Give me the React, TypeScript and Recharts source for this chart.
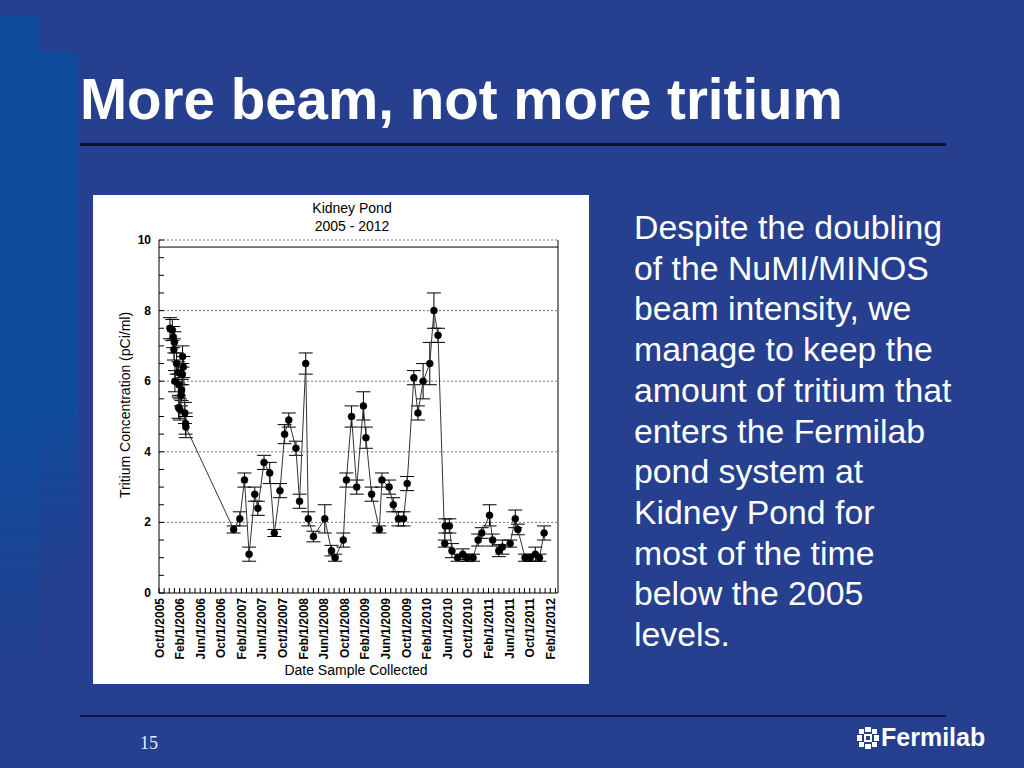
import React from "react";
import { LineChart, Line, XAxis, YAxis, ErrorBar, ReferenceLine } from "recharts";

// x = months after Oct/1/2005
const sampleMonths = [
  2.13, 2.59, 2.79, 2.9, 2.98, 3.09, 3.42, 3.75, 3.8, 3.87, 4.06, 4.26, 4.39, 4.53, 4.58, 4.72, 5.03, 5.16, 5.22,
  14.5, 15.7, 16.6, 17.5, 18.6, 19.2, 20.4, 21.5, 22.4, 23.5, 24.4, 25.2, 26.6, 27.3, 28.5, 29.0, 30.0,
  32.2, 33.5, 34.2, 35.8, 36.4, 37.4, 38.4, 39.7, 40.2, 41.3, 42.8, 43.3, 44.7, 45.5, 46.5, 47.5, 48.2,
  49.5, 50.3, 51.3, 52.6, 53.4, 54.2, 55.5, 55.6, 56.4, 56.9, 58.0, 59.0, 59.8, 61.0, 62.0, 62.7, 64.2,
  64.8, 66.0, 66.7, 68.2, 69.2, 69.7, 71.1, 72.1, 73.1, 73.9, 74.8,
];
const tritium = [
  7.5, 7.45, 7.25, 6.9, 7.1, 6.0, 6.5, 6.25, 5.25, 5.9, 5.2, 5.6, 5.75, 6.2, 6.7, 6.4, 5.1, 4.8, 4.7,
  1.8, 2.1, 3.2, 1.1, 2.8, 2.4, 3.7, 3.4, 1.7, 2.9, 4.5, 4.9, 4.1, 2.6, 6.5, 2.1, 1.6,
  2.1, 1.2, 1.0, 1.5, 3.2, 5.0, 3.0, 5.3, 4.4, 2.8, 1.8, 3.2, 3.0, 2.5, 2.1, 2.1, 3.1,
  6.1, 5.1, 6.0, 6.5, 8.0, 7.3, 1.4, 1.9, 1.9, 1.2, 1.0, 1.1, 1.0, 1.0, 1.5, 1.7, 2.2,
  1.5, 1.2, 1.3, 1.4, 2.1, 1.8, 1.0, 1.0, 1.1, 1.0, 1.7,
];
const tritiumErr = [
  0.3, 0.3, 0.3, 0.3, 0.3, 0.3, 0.3, 0.3, 0.3, 0.3, 0.3, 0.3, 0.3, 0.3, 0.3, 0.3, 0.3, 0.3, 0.3,
  0.1, 0.2, 0.2, 0.2, 0.2, 0.2, 0.2, 0.3, 0.1, 0.2, 0.27, 0.2, 0.2, 0.2, 0.3, 0.2, 0.15,
  0.4, 0.15, 0.1, 0.2, 0.2, 0.3, 0.2, 0.4, 0.3, 0.2, 0.1, 0.2, 0.2, 0.2, 0.2, 0.2, 0.2,
  0.2, 0.2, 0.5, 0.6, 0.5, 0.2, 0.1, 0.2, 0.2, 0.2, 0.1, 0.15, 0.1, 0.1, 0.17, 0.15, 0.3,
  0.17, 0.17, 0.2, 0.1, 0.25, 0.15, 0.1, 0.1, 0.2, 0.1, 0.2,
];

const dateTickMonths = [0, 4, 8, 12, 16, 20, 24, 28, 32, 36, 40, 44, 48, 52, 56, 60, 64, 68, 72, 76];
const dateTickLabels = [
  "Oct/1/2005", "Feb/1/2006", "Jun/1/2006", "Oct/1/2006", "Feb/1/2007", "Jun/1/2007", "Oct/1/2007",
  "Feb/1/2008", "Jun/1/2008", "Oct/1/2008", "Feb/1/2009", "Jun/1/2009", "Oct/1/2009", "Feb/1/2010",
  "Jun/1/2010", "Oct/1/2010", "Feb/1/2011", "Jun/1/2011", "Oct/1/2011", "Feb/1/2012",
];
const monthTicks = Array.from({ length: 78 }, (_, i) => i);
const concTicks = [0, 0.5, 1, 1.5, 2, 2.5, 3, 3.5, 4, 4.5, 5, 5.5, 6, 6.5, 7, 7.5, 8, 8.5, 9, 9.5, 10];
const concLabels = [0, 2, 4, 6, 8, 10];
const gridLevels = [2, 4, 6, 8, 10];

const bodyLines = [
  "Despite the doubling",
  "of the NuMI/MINOS",
  "beam intensity, we",
  "manage to keep the",
  "amount of tritium that",
  "enters the Fermilab",
  "pond system at",
  "Kidney Pond for",
  "most of the time",
  "below the 2005",
  "levels.",
];

const data = sampleMonths.map((m, i) => ({ m, v: tritium[i], e: tritiumErr[i] }));

const BottomTick = ({ x, y, payload }: any) => {
  const i = dateTickMonths.indexOf(payload.value);
  return (
    <g>
      <line x1={x} x2={x} y1={y} y2={y - 5} stroke="#000" strokeWidth={1} />
      {i >= 0 && (
        <text
          transform={`translate(${x + 4.5},${y + 5}) rotate(-90)`}
          textAnchor="end"
          fontSize={12}
          fontWeight="bold"
          fill="#000"
        >
          {dateTickLabels[i]}
        </text>
      )}
    </g>
  );
};

const TopTick = ({ x, y }: any) => (
  <line x1={x} x2={x} y1={y + 7} y2={y + 12} stroke="#000" strokeWidth={1} />
);

const LeftTick = ({ x, y, payload }: any) => (
  <g>
    <line x1={x} x2={x + 5} y1={y} y2={y} stroke="#000" strokeWidth={1} />
    {concLabels.includes(payload.value) && (
      <text x={x - 8} y={y + 4} textAnchor="end" fontSize={12} fontWeight="bold" fill="#000">
        {payload.value}
      </text>
    )}
  </g>
);

const RightTick = ({ x, y }: any) => (
  <line x1={x - 5} x2={x} y1={y} y2={y} stroke="#000" strokeWidth={1} />
);

const abs = (style: React.CSSProperties): React.CSSProperties => ({ position: "absolute", ...style });

export default function App() {
  return (
    <div
      style={{
        position: "fixed",
        left: 0,
        top: 0,
        width: 1024,
        height: 768,
        overflow: "hidden",
        background: "#263f8e",
        fontFamily: "'Liberation Sans', Arial, sans-serif",
      }}
    >
      {/* left decorative stripe */}
      <div style={abs({ left: 0, top: 15, width: 40, height: 680, background: "linear-gradient(#0f4b9c 60%, #263f8e)" })} />
      <div style={abs({ left: 40, top: 52, width: 38, height: 540, background: "linear-gradient(#0f4b9c 65%, #263f8e)" })} />

      <div style={abs({ left: 80, top: 72, fontSize: 56.5, lineHeight: "56px", fontWeight: "bold", color: "#fff", whiteSpace: "nowrap" })}>
        More beam, not more tritium
      </div>
      <div style={abs({ left: 80, top: 143, width: 866, height: 3, background: "#0b1230" })} />

      {/* chart panel */}
      <div style={abs({ left: 93, top: 195, width: 496, height: 489, background: "#fff" })}>
        <div style={abs({ left: 0, top: 4, width: 518, textAlign: "center", fontSize: 14, lineHeight: "18px", color: "#000" })}>
          Kidney Pond
          <br />
          2005 - 2012
        </div>
        <div
          style={abs({
            left: 32 - 120,
            top: 210 - 9,
            width: 240,
            textAlign: "center",
            fontSize: 14,
            lineHeight: "18px",
            transform: "rotate(-90deg)",
            whiteSpace: "nowrap",
          })}
        >
          Tritium Concentration (pCi/ml)
        </div>
        <div style={abs({ left: 0, top: 466, width: 526, textAlign: "center", fontSize: 14, lineHeight: "18px" })}>
          Date Sample Collected
        </div>
        <div style={abs({ left: 0, top: 0 })}>
          <LineChart width={496} height={489} data={data} margin={{ top: 45, right: 0, bottom: 0, left: 0 }}>
            <XAxis
              xAxisId="bottom"
              dataKey="m"
              type="number"
              domain={[0, 77.5]}
              ticks={monthTicks}
              interval={0}
              height={91}
              tickSize={0}
              tickMargin={0}
              tick={<BottomTick />}
              axisLine={{ stroke: "#000", strokeWidth: 1 }}
              tickLine={false}
            />
            <XAxis
              xAxisId="top"
              orientation="top"
              dataKey="m"
              type="number"
              domain={[0, 77.5]}
              ticks={monthTicks}
              interval={0}
              height={0}
              tickSize={0}
              tickMargin={0}
              tick={<TopTick />}
              axisLine={false}
              tickLine={false}
            />
            <YAxis
              yAxisId="left"
              type="number"
              domain={[0, 10]}
              ticks={concTicks}
              interval={0}
              width={66}
              tickSize={0}
              tickMargin={0}
              tick={<LeftTick />}
              axisLine={{ stroke: "#000", strokeWidth: 1 }}
              tickLine={false}
            />
            <YAxis
              yAxisId="right"
              orientation="right"
              type="number"
              domain={[0, 10]}
              ticks={concTicks}
              interval={0}
              width={31}
              tickSize={0}
              tickMargin={0}
              tick={<RightTick />}
              axisLine={{ stroke: "#000", strokeWidth: 1 }}
              tickLine={false}
            />
            {gridLevels.map((g) => (
              <ReferenceLine
                key={g}
                xAxisId="bottom"
                yAxisId="left"
                y={g}
                stroke="#555"
                strokeWidth={0.8}
                strokeDasharray="2 2"
              />
            ))}
            <ReferenceLine xAxisId="bottom" yAxisId="left" y={9.8} stroke="#000" strokeWidth={1} />
            <Line
              xAxisId="bottom"
              yAxisId="left"
              dataKey="v"
              type="linear"
              stroke="#333"
              strokeWidth={1}
              dot={{ r: 3.5, fill: "#000", stroke: "#000", strokeWidth: 0.5 }}
              activeDot={false}
              isAnimationActive={false}
            >
              <ErrorBar dataKey="e" direction="y" width={7} stroke="#000" strokeWidth={1} />
            </Line>
          </LineChart>
        </div>
      </div>

      {/* body text */}
      <div style={abs({ left: 634, top: 207, fontSize: 33.8, lineHeight: "40.7px", color: "#fff", whiteSpace: "nowrap" })}>
        {bodyLines.map((l) => (
          <div key={l}>{l}</div>
        ))}
      </div>

      {/* footer */}
      <div style={abs({ left: 80, top: 715, width: 866, height: 2, background: "#0f1a44" })} />
      <div style={abs({ left: 140, top: 733, fontFamily: "'Liberation Serif', 'Times New Roman', serif", fontSize: 18, color: "#e8ecf6" })}>
        15
      </div>
      <svg style={abs({ left: 856, top: 726, width: 24, height: 24 })} viewBox="0 0 24 24">
        <g fill="#fff">
          <rect x="9" y="1" width="6" height="5" />
          <rect x="9" y="18" width="6" height="5" />
          <rect x="1" y="9" width="5" height="6" />
          <rect x="18" y="9" width="5" height="6" />
          <rect x="3" y="3" width="5" height="5" />
          <rect x="16" y="3" width="5" height="5" />
          <rect x="3" y="16" width="5" height="5" />
          <rect x="16" y="16" width="5" height="5" />
        </g>
        <rect x="8" y="8" width="8" height="8" fill="#fff" />
        <rect x="10" y="10" width="4" height="4" fill="#263f8e" />
      </svg>
      <div style={abs({ left: 881, top: 722, fontSize: 25, fontWeight: "bold", color: "#fff", lineHeight: "30px" })}>
        Fermilab
      </div>
    </div>
  );
}
